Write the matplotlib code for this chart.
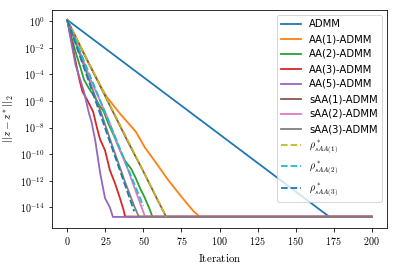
import numpy as np
import matplotlib
matplotlib.use("Agg")
import matplotlib.pyplot as plt

plt.rcParams['font.family'] = 'serif'
plt.rcParams['font.serif'] = ['cmr10']
plt.rcParams['mathtext.fontset'] = 'cm'
plt.rcParams['axes.formatter.use_mathtext'] = True
plt.rcParams['axes.unicode_minus'] = False

# ---------------- data (log10 of ||z - z*||_2) ----------------
admm_it = [0, 172, 200]
admm_lg = [0.1, -14.7, -14.7]

aa1_it = [0, 6, 12, 18, 22, 26, 35, 45, 51, 58, 66, 75, 83, 87, 200]
aa1_lg = [0.1, -1.3, -2.7, -4.0, -4.9, -5.7, -7.0, -8.3, -9.5, -10.6, -11.9, -13.2, -14.3, -14.7, -14.7]

aa2_it = [0, 3, 6, 9, 11, 14, 18, 21, 24, 27, 31, 34.6, 38, 42, 45, 48, 51, 54, 56, 200]
aa2_lg = [0.1, -1.3, -2.5, -3.6, -4.4, -5.0, -5.7, -6.3, -6.8, -7.7, -8.7, -9.7, -10.5, -11.1,
          -11.8, -12.6, -13.3, -14.1, -14.72, -14.72]

aa3_it = [0, 3, 6, 8, 10, 13, 17, 19.5, 21.6, 24.8, 28, 31.4, 34.6, 37, 38, 200]
aa3_lg = [0.1, -1.6, -3.3, -4.4, -5.3, -5.9, -6.8, -8.0, -8.9, -9.7, -11.2, -12.2, -13.3, -14.2,
          -14.69, -14.69]

aa5_it = [0, 3, 5.5, 8, 11, 14, 16, 18.3, 21.6, 24.8, 28, 30, 200]
aa5_lg = [0.1, -1.8, -3.3, -4.2, -5.3, -6.8, -7.6, -8.9, -11.4, -13.3, -14.0, -14.72, -14.72]

saa1_it = [0, 10, 20, 30, 40, 50, 60, 65, 200]
saa1_lg = [0.1, -2.2, -4.5, -6.8, -9.1, -11.3, -13.6, -14.71, -14.71]

saa2_it = [0, 8, 15, 22, 27, 34, 40, 46, 51, 200]
saa2_lg = [0.1, -2.2, -4.3, -6.1, -7.4, -9.5, -11.2, -13.1, -14.68, -14.68]

saa3_it = [0, 7, 14, 22, 30, 38, 44, 47, 200]
saa3_lg = [0.1, -2.1, -4.3, -6.8, -9.5, -12.1, -13.9, -14.7, -14.7]

rho1_it = [0, 65]
rho1_lg = [0.1, -14.7]
rho2_it = [0, 50]
rho2_lg = [0.1, -13.9]
rho3_it = [0, 44]
rho3_lg = [0.1, -14.3]

solid = [
    ("ADMM", admm_it, admm_lg, "C0"),
    ("AA(1)-ADMM", aa1_it, aa1_lg, "C1"),
    ("AA(2)-ADMM", aa2_it, aa2_lg, "C2"),
    ("AA(3)-ADMM", aa3_it, aa3_lg, "C3"),
    ("AA(5)-ADMM", aa5_it, aa5_lg, "C4"),
    ("sAA(1)-ADMM", saa1_it, saa1_lg, "C5"),
    ("sAA(2)-ADMM", saa2_it, saa2_lg, "C6"),
    ("sAA(3)-ADMM", saa3_it, saa3_lg, "C7"),
]
dashed = [
    (r"$\rho^*_{sAA(1)}$", rho1_it, rho1_lg, "C8"),
    (r"$\rho^*_{sAA(2)}$", rho2_it, rho2_lg, "C9"),
    (r"$\rho^*_{sAA(3)}$", rho3_it, rho3_lg, "C0"),
]

# ---------------- plot ----------------
fig = plt.figure(figsize=(397 / 72, 266 / 72), dpi=72)
ax = fig.add_axes([52 / 397, 1 - 228 / 266, 335 / 397, 218 / 266])

for lab, it, lg, c in solid:
    ax.semilogy(it, 10.0 ** np.array(lg), color=c, lw=1.8, label=lab)
for lab, it, lg, c in dashed:
    ax.semilogy(it, 10.0 ** np.array(lg), color=c, lw=1.8, ls="--", label=lab)

ax.set_xlim(-10, 210)
ax.set_ylim(2.8e-16, 7)
ax.set_xticks([0, 25, 50, 75, 100, 125, 150, 175, 200])
ax.set_yticks([10.0 ** k for k in range(0, -15, -2)])
ax.set_xlabel(r"$\mathrm{Iteration}$", fontsize=11)
ax.xaxis.set_label_coords(0.5, -0.11)
ax.set_ylabel(r"$||z-z^*||_2$", fontsize=11)
ax.legend(loc="upper right", prop={"family": "DejaVu Sans", "size": 10})

fig.savefig("out.png", dpi=72)
